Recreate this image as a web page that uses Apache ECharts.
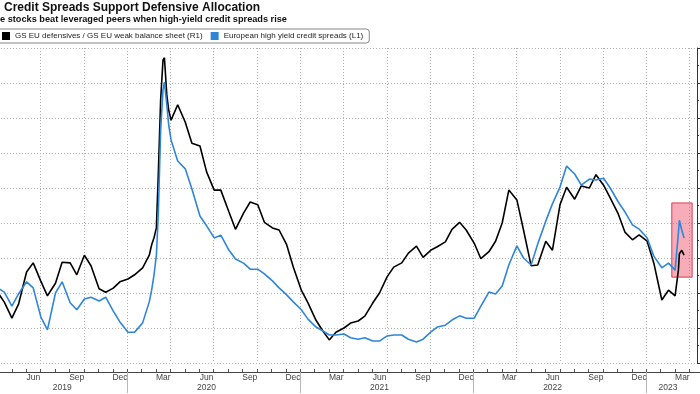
<!DOCTYPE html>
<html><head><meta charset="utf-8">
<script src="https://cdn.jsdelivr.net/npm/echarts@6.0.0/dist/echarts.min.js"></script>
<style>html,body{margin:0;padding:0;background:#fff}#c{width:700px;height:394px}</style>
</head><body><div id="c"></div>
<script>
// ---- data ----
const dates = [
'2019-03-15','2019-04-01','2019-04-15','2019-05-01','2019-05-15','2019-06-01','2019-06-15','2019-07-01','2019-07-15','2019-08-01','2019-08-15','2019-09-01','2019-09-15','2019-10-01','2019-10-15','2019-11-01','2019-11-15','2019-12-01','2019-12-15',
'2020-01-01','2020-01-15','2020-02-01','2020-02-15','2020-02-20','2020-02-25','2020-03-01','2020-03-05','2020-03-10','2020-03-15','2020-03-18','2020-03-23','2020-03-27','2020-04-01','2020-04-15','2020-05-01','2020-05-15','2020-06-01','2020-06-15','2020-07-01','2020-07-15','2020-08-01','2020-08-15','2020-09-01','2020-09-15','2020-10-01','2020-10-15','2020-11-01','2020-11-15','2020-12-01','2020-12-15',
'2021-01-01','2021-01-15','2021-02-01','2021-02-15','2021-03-01','2021-03-15','2021-04-01','2021-04-15','2021-05-01','2021-05-15','2021-06-01','2021-06-15','2021-07-01','2021-07-15','2021-08-01','2021-08-15','2021-09-01','2021-09-15','2021-10-01','2021-10-15','2021-11-01','2021-11-15','2021-12-01','2021-12-15',
'2022-01-01','2022-01-15','2022-02-01','2022-02-15','2022-03-01','2022-03-15','2022-04-01','2022-04-15','2022-05-01','2022-05-15','2022-06-01','2022-06-15','2022-07-01','2022-07-15','2022-08-01','2022-08-15','2022-09-01','2022-09-15','2022-10-01','2022-10-15','2022-11-01','2022-11-15','2022-12-01','2022-12-15',
'2023-01-01','2023-01-15','2023-02-01','2023-02-15','2023-03-01','2023-03-08','2023-03-10','2023-03-15','2023-03-20'
];
// GS EU defensives / GS EU weak balance sheet (R1)
const ratioR1 = [
90.4,90.1,88.7,86.4,88.4,93.0,94.3,91.7,89.6,91.4,94.4,94.3,92.6,95.4,93.9,90.6,90.1,90.7,91.6,
92.0,92.6,93.6,95.4,96.9,97.9,99.3,106.9,117.6,123.3,123.6,118.3,116.1,114.7,116.9,114.4,111.4,111.0,107.3,104.7,104.7,101.6,99.1,101.4,103.0,102.6,100.1,99.3,99.0,96.9,93.7,
90.4,88.6,86.1,84.6,83.3,84.4,85.0,85.7,86.0,86.7,88.6,90.0,92.3,93.7,94.3,95.7,96.7,95.1,96.1,96.6,97.3,99.1,100.1,99.0,
97.1,94.9,95.9,97.4,100.0,104.7,103.3,99.0,93.9,94.0,97.4,96.1,102.6,105.1,103.4,105.3,105.0,106.9,105.4,103.6,101.3,98.7,97.6,98.3,
97.4,94.3,89.0,90.4,89.6,93.3,95.6,96.1,95.4
];
// European high yield credit spreads (L1), bp
const spreadsL1 = [
403,386,377,347,373,399,386,324,296,375,399,354,339,362,366,358,366,336,313,
291,291,311,356,381,414,456,542,724,810,827,778,735,703,658,641,598,540,519,493,499,467,448,439,426,426,416,401,386,371,356,
339,319,302,294,285,285,287,279,276,279,272,272,283,285,285,276,270,276,291,302,306,317,326,321,
321,347,377,373,390,435,476,450,435,480,529,566,602,647,630,606,619,617,621,600,570,549,521,512,
493,454,429,439,424,504,531,510,493
];
const seriesNames = ['GS EU defensives / GS EU weak balance sheet (R1)', 'European high yield credit spreads (L1)'];
const monthNames = ['Jan','Feb','Mar','Apr','May','Jun','Jul','Aug','Sep','Oct','Nov','Dec'];
const labelMonths = ['03','06','09','12'];
const gridMonths = ['01','04','07','10'];
const yearLabelAt = ['2019-08','2020-06','2021-06','2022-06','2023-02'];
const highlight = { from: '2023-02-22', to: '2023-04-06', low: 409, high: 568 };

// month categories Mar 2019 .. Apr 2023
const months = [];
for (let y = 2019, m = 3; !(y === 2023 && m === 5); ) {
  months.push(y + '-' + String(m).padStart(2, '0'));
  m++; if (m > 12) { m = 1; y++; }
}
const FONT = "'Liberation Sans',Arial,sans-serif";
const dotted = { color: '#b0b0b0', width: 1, type: [1, 2] };

const chart = echarts.init(document.getElementById('c'), null, { renderer: 'canvas' });
chart.setOption({
  animation: false,
  backgroundColor: '#fff',
  title: [
    { text: 'Credit Spreads Support Defensive Allocation', left: 4, top: 2, padding: 0,
      textStyle: { fontFamily: FONT, fontWeight: 'bold', fontSize: 12, color: '#111' } },
    { text: 'e stocks beat leveraged peers when high-yield credit spreads rise', left: 0, top: 15, padding: 0,
      textStyle: { fontFamily: FONT, fontWeight: 'bold', fontSize: 9.2, color: '#111' } }
  ],
  legend: {
    data: seriesNames, left: -4, top: 29, icon: 'rect', itemWidth: 8, itemHeight: 8, itemGap: 8,
    padding: [3, 6, 3, 6], borderColor: '#888', borderWidth: 1, borderRadius: 3,
    textStyle: { fontFamily: FONT, fontSize: 8, color: '#222' }
  },
  grid: { left: -17, right: -4, top: 48, bottom: 31, outerBoundsMode: 'none', containLabel: false },
  xAxis: [
    { type: 'category', data: months, boundaryGap: true, position: 'bottom', offset: 9,
      axisLine: { show: true, lineStyle: { color: '#444', width: 1 } },
      axisTick: { show: true, inside: true, length: 3, interval: 0, lineStyle: { color: '#555' } },
      axisLabel: { interval: (i, v) => labelMonths.includes(v.slice(5)), formatter: v => monthNames[+v.slice(5) - 1],
        margin: 1, fontFamily: FONT, fontSize: 8.5, color: '#444' },
      splitLine: { show: true, interval: (i, v) => gridMonths.includes(v.slice(5)), lineStyle: dotted } },
    { type: 'category', data: months, boundaryGap: true, position: 'bottom', offset: 9,
      axisLine: { show: false },
      axisTick: { show: true, inside: false, length: 21, interval: (i, v) => v.slice(5) === '01', lineStyle: { color: '#b8b8b8' } },
      axisLabel: { interval: (i, v) => yearLabelAt.includes(v), formatter: v => v.slice(0, 4),
        margin: 11, fontFamily: FONT, fontSize: 8.5, color: '#444' },
      splitLine: { show: false } },
    { type: 'time', show: false, min: new Date(2019, 2, 1).getTime(), max: new Date(2023, 4, 1).getTime() }
  ],
  yAxis: [
    { type: 'value', show: false, min: 225, max: 900, interval: 75 },
    { type: 'value', position: 'right', offset: -7, min: 80, max: 125, interval: 5,
      axisLine: { show: true, lineStyle: { color: '#333', width: 1 } },
      axisTick: { show: true, length: 4, lineStyle: { color: '#333' } },
      minorTick: { show: true, splitNumber: 2, length: 2, lineStyle: { color: '#333' } },
      axisLabel: { show: false },
      splitLine: { show: true, lineStyle: dotted } }
  ],
  series: [
    { name: seriesNames[0], type: 'line', xAxisIndex: 2, yAxisIndex: 1, showSymbol: false, symbol: 'none',
      data: dates.map((d, i) => [d, ratioR1[i]]), lineStyle: { color: '#000', width: 1.6 }, itemStyle: { color: '#000' }, z: 3 },
    { name: seriesNames[1], type: 'line', xAxisIndex: 2, yAxisIndex: 0, showSymbol: false, symbol: 'none',
      data: dates.map((d, i) => [d, spreadsL1[i]]), lineStyle: { color: '#2f86d9', width: 1.6 }, itemStyle: { color: '#2f86d9' }, z: 4 },
    { name: 'highlight', type: 'line', xAxisIndex: 2, yAxisIndex: 0, symbol: 'none', silent: true,
      data: [[highlight.from, highlight.low], [highlight.to, highlight.low]], lineStyle: { opacity: 0, width: 0 }, z: 10,
      markArea: { silent: true, itemStyle: { color: 'rgba(238,70,100,0.45)', borderColor: 'rgba(215,45,70,0.9)', borderWidth: 1 },
        data: [[{ xAxis: highlight.from, yAxis: highlight.high }, { xAxis: highlight.to, yAxis: highlight.low }]] } }
  ]
});
</script></body></html>
